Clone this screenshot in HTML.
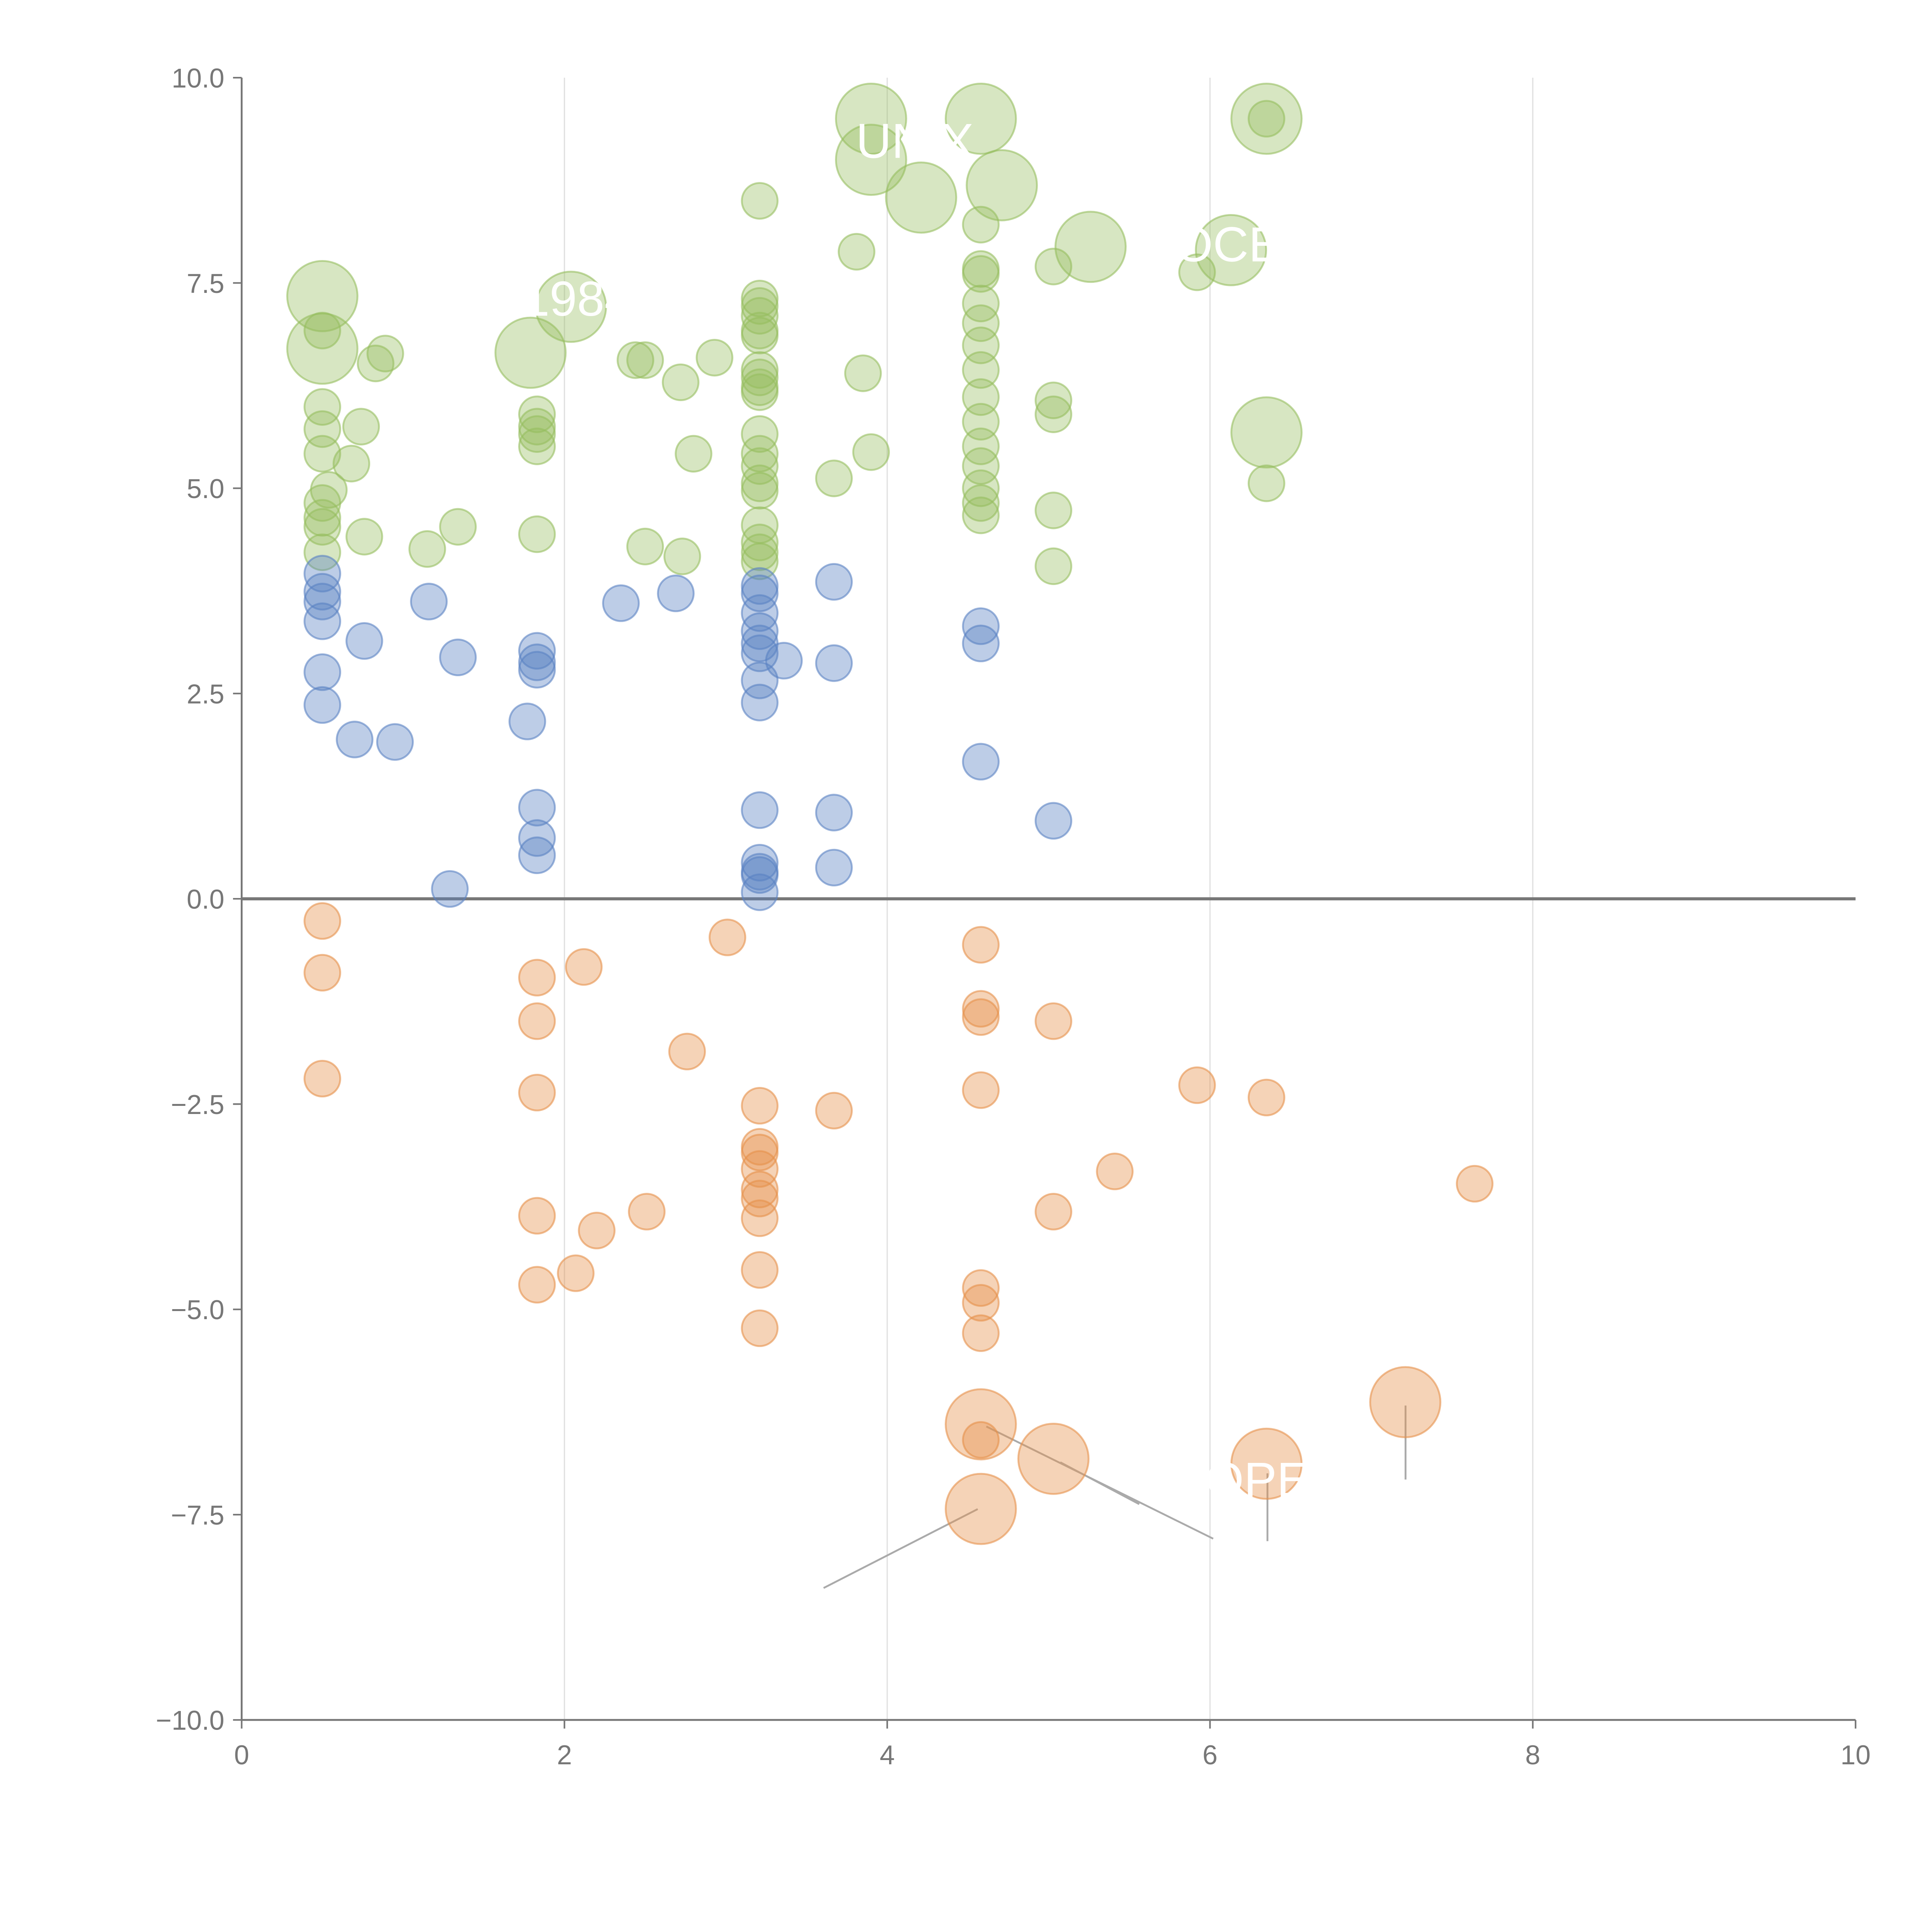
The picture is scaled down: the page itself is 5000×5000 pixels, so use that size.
<!DOCTYPE html>
<html><head><meta charset="utf-8"><style>
html,body{margin:0;padding:0;background:#fff;}
svg{display:block;}
text{font-family:"Liberation Sans",sans-serif;}
</style></head><body>
<svg id="chart" width="5000" height="5000" viewBox="0 0 1567 1567" xmlns="http://www.w3.org/2000/svg">
<g id="grid"></g>
<g id="axes"></g>
<g id="leaders"></g>
<g id="marks"></g>
<g id="labels"></g>
</svg>
<script>
// data: [x, y, size]
const greenPts = [
[0.5,7.34,2],[0.5,6.70,2],[0.5,6.92,1],[0.5,5.99,1],[0.5,5.72,1],[0.5,5.42,1],[0.54,4.98,1],[0.5,4.82,1],[0.5,4.64,1],[0.5,4.53,1],[0.5,4.22,1],
[0.83,6.52,1],[0.89,6.64,1],[0.74,5.75,1],[0.68,5.30,1],[0.76,4.41,1],[1.15,4.26,1],[1.34,4.53,1],
[1.79,6.65,2],[2.04,7.21,2],[1.83,5.90,1],[1.83,5.75,1],[1.83,5.66,1],[1.83,5.51,1],[1.83,4.44,1],
[2.44,6.56,1],[2.5,6.56,1],[2.72,6.29,1],[2.93,6.59,1],[2.8,5.42,1],[2.5,4.29,1],[2.73,4.17,1],
[3.21,8.50,1],[3.21,7.31,1],[3.21,7.22,1],[3.21,7.10,1],[3.21,6.92,1],[3.21,6.86,1],[3.21,6.44,1],[3.21,6.35,1],[3.21,6.23,1],[3.21,6.17,1],[3.21,5.66,1],[3.21,5.42,1],[3.21,5.27,1],[3.21,5.06,1],[3.21,4.97,1],[3.21,4.55,1],[3.21,4.34,1],[3.21,4.22,1],[3.21,4.11,1],
[3.67,5.12,1],[3.81,7.88,1],[3.85,6.40,1],[3.9,5.44,1],
[3.9,9.50,2],[3.9,9.0,2],[4.21,8.54,2],[4.58,9.50,2],[4.71,8.69,2],
[4.58,8.21,1],[4.58,7.67,1],[4.58,7.61,1],[4.58,7.25,1],[4.58,7.01,1],[4.58,6.74,1],[4.58,6.44,1],[4.58,6.11,1],[4.58,5.81,1],[4.58,5.51,1],[4.58,5.27,1],[4.58,5.0,1],[4.58,4.82,1],[4.58,4.67,1],
[5.03,7.70,1],[5.03,6.07,1],[5.03,5.90,1],[5.03,4.73,1],[5.03,4.05,1],
[5.26,7.94,2],[5.92,7.63,1],[6.13,7.90,2],[6.35,9.50,2],[6.35,9.50,1],[6.35,5.68,2],[6.35,5.06,1]
];
const bluePts = [
[0.5,3.96,1],[0.5,3.74,1],[0.5,3.62,1],[0.5,3.38,1],[0.5,2.76,1],[0.5,2.36,1],[0.70,1.94,1],[0.76,3.14,1],[0.95,1.91,1],[1.16,3.62,1],[1.34,2.94,1],[1.29,0.12,1],
[1.77,2.16,1],[1.83,3.02,1],[1.83,2.88,1],[1.83,2.79,1],[1.83,1.11,1],[1.83,0.74,1],[1.83,0.53,1],
[2.35,3.60,1],[2.69,3.72,1],
[3.21,3.81,1],[3.21,3.72,1],[3.21,3.48,1],[3.21,3.26,1],[3.21,3.11,1],[3.21,2.99,1],[3.21,2.66,1],[3.21,2.39,1],[3.21,1.08,1],[3.21,0.44,1],[3.21,0.33,1],[3.21,0.29,1],[3.21,0.08,1],[3.36,2.90,1],
[3.67,3.86,1],[3.67,2.87,1],[3.67,1.05,1],[3.67,0.38,1],
[4.58,3.32,1],[4.58,3.11,1],[4.58,1.67,1],[5.03,0.95,1]
];
const orangePts = [
[0.5,-0.27,1],[0.5,-0.90,1],[0.5,-2.19,1],[1.83,-0.96,1],[1.83,-1.49,1],[1.83,-2.36,1],[1.83,-3.86,1],[1.83,-4.70,1],[2.12,-0.83,1],[2.07,-4.56,1],[2.2,-4.04,1],[2.51,-3.81,1],[2.76,-1.86,1],[3.01,-0.47,1],
[3.21,-2.52,1],[3.21,-3.02,1],[3.21,-3.09,1],[3.21,-3.29,1],[3.21,-3.54,1],[3.21,-3.65,1],[3.21,-3.89,1],[3.21,-4.52,1],[3.21,-5.23,1],
[3.67,-2.58,1],[4.58,-0.56,1],[4.58,-1.34,1],[4.58,-1.44,1],[4.58,-2.33,1],[4.58,-4.74,1],[4.58,-4.92,1],[4.58,-5.29,1],[4.58,-6.59,1],
[5.03,-1.49,1],[5.03,-3.81,1],[5.41,-3.32,1],[5.92,-2.27,1],[6.35,-2.42,1],[7.64,-3.47,1],
[4.58,-6.40,2],[4.58,-7.43,2],[5.03,-6.82,2],[6.35,-6.88,2],[7.21,-6.13,2]
];
const xTicks = [0,2,4,6,8,10];
const yTicks = [-10,-7.5,-5,-2.5,0,2.5,5,7.5,10];
const yTickLabels = ["\u221210.0","\u22127.5","\u22125.0","\u22122.5","0.0","2.5","5.0","7.5","10.0"];

const NS="http://www.w3.org/2000/svg";
const X0=196,X1=1505,Y0=1395,Y1=63;
function sx(v){return X0+(v-0)/(10-0)*(X1-X0);}
function sy(v){return Y0-(v+10)/20*(Y0-Y1);}
function mk(tag,attrs,parent){const e=document.createElementNS(NS,tag);for(const k in attrs)e.setAttribute(k,attrs[k]);parent.appendChild(e);return e;}
const grid=document.getElementById('grid'),axes=document.getElementById('axes'),marks=document.getElementById('marks'),leaders=document.getElementById('leaders'),labels=document.getElementById('labels');

xTicks.forEach(t=>{
  if(t>0&&t<10){const g=mk('line',{x1:sx(t),x2:sx(t),y1:Y1,y2:Y0,stroke:'#e0e0e0','stroke-width':1},grid);
  
  }
  const tk=mk('line',{x1:sx(t),x2:sx(t),y1:Y0,y2:Y0+7,stroke:'#777','stroke-width':1.3},axes);
  
  
  const lb=mk('text',{x:sx(t),y:Y0+36,'text-anchor':'middle','font-size':22,fill:'#777'},axes);
  lb.textContent=t;
  
  
});
yTicks.forEach((t,i)=>{
  const tk=mk('line',{x1:X0-7,x2:X0,y1:sy(t),y2:sy(t),stroke:'#777','stroke-width':1.3},axes);
  
  
  const lb=mk('text',{x:X0-14,y:sy(t)+8,'text-anchor':'end','font-size':22,fill:'#777'},axes);
  lb.textContent=yTickLabels[i];
  
  
});
const ya=mk('line',{x1:X0,x2:X0,y1:Y1,y2:Y0,stroke:'#777','stroke-width':1.5},axes);


const xa=mk('line',{x1:X0,x2:X1,y1:Y0,y2:Y0,stroke:'#777','stroke-width':1.5},axes);


const zl=mk('line',{x1:X0,x2:X1,y1:sy(0),y2:sy(0),stroke:'#777','stroke-width':2.5},axes);



function drawSeries(pts,fill,stroke,name){
  pts.forEach(p=>{
    const c=mk('circle',{cx:sx(p[0]),cy:sy(p[1]),r:p[2]===2?28.5:14.5,fill:fill,stroke:stroke,'stroke-width':1.5},marks);
    
    
  });
}
drawSeries(greenPts,'rgba(150,190,95,0.38)','rgba(150,190,95,0.6)','green-bubble');
drawSeries(bluePts,'rgba(90,130,195,0.4)','rgba(90,130,195,0.6)','blue-bubble');
drawSeries(orangePts,'rgba(230,145,75,0.4)','rgba(230,145,75,0.6)','orange-bubble');

const leaderLines=[[668,1288,793,1224],[800,1157,984,1248],[860,1186,924,1220],[1028,1195,1028,1250],[1140,1140,1140,1200]];
leaderLines.forEach(l=>{
  const e=mk('line',{x1:l[0],y1:l[1],x2:l[2],y2:l[3],stroke:'#aaa','stroke-width':1.5},leaders);
  
  
});
const whiteLeaders=[[263,233,278,215],[263,278,275,240],[433,284,448,268],[680,130,704,130],[748,188,748,160],[816,150,840,154],[888,205,896,228],[1010,375,1026,354],[1032,96,1056,93],[1008,208,1022,218]];
whiteLeaders.forEach(l=>{
  const e=mk('line',{x1:l[0],y1:l[1],x2:l[2],y2:l[3],stroke:'#fff','stroke-width':1.5},leaders);
  
  
});
const lbls=[["UNIX",742,128],["1984",468,256],["OCE",996,212],["OPE",1020,1214]];
lbls.forEach(l=>{
  const t=mk('text',{x:l[1],y:l[2],'text-anchor':'middle','font-size':40,fill:'#fff'},labels);
  t.textContent=l[0];
  
  
});
</script>
</body></html>
